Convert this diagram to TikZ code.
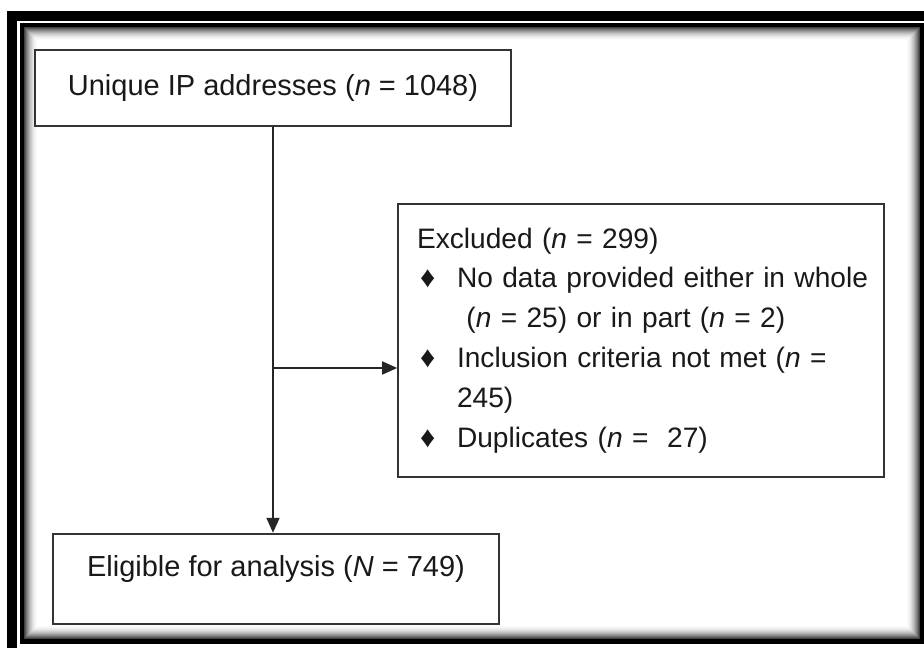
\documentclass[tikz,border=0pt]{standalone}
\usepackage{fontspec}
\setmainfont{Liberation Sans}
\usepackage{tikz}
\usetikzlibrary{arrows.meta,positioning}

\newcommand{\bul}{\makebox[0.97cm][l]{\hspace{0.23cm}{\fontsize{17}{17}\selectfont ♦}}}
\newcommand{\ind}{\hspace*{0.97cm}}

\begin{document}
\begin{tikzpicture}[
x=0.02cm, y=-0.02cm,
box/.style={draw=black!80, line width=1pt, fill=white, align=center, font=\fontsize{16.5}{22.7}\selectfont, text=black!90},
excl/.style={box, minimum width=9.72cm, minimum height=5.46cm, text width=9.3cm, inner xsep=0.21cm, align=left, font=\fontsize{16}{22.7}\selectfont},
arrow/.style={-{Triangle[length=0.3cm, width=0.26cm]}, draw=black!85, line width=1pt}
]
\useasboundingbox (0,0) rectangle (924,648);
% frame with inner shadow
\fill[black] (7,11) rectangle (924,648);
\fill[white] (17,21) rectangle (924,648);
\fill[black] (20,23) rectangle (924,644);
\fill[white] (24,27) rectangle (920,639);
\foreach \k in {0,...,13}{
  \pgfmathsetmacro\g{75*(1-\k/14)^2}
  \draw[black!\g, line width=0.022cm] (24.5+\k,27.5+\k) rectangle (919.5-\k,638.5-\k);
}

\node[box, minimum width=9.52cm, minimum height=1.52cm] (ip) at (273,88) {Unique IP addresses (\textit{n} = 1048)};
\node[box, minimum width=8.92cm, minimum height=1.8cm, text height=0.3cm, text depth=0.4cm, below=8.12cm of ip, xshift=0.06cm] (elig) {Eligible for analysis (\textit{N} = 749)};
\node[excl] (excl) at (641,340.5) {\hspace*{0.17cm}Excluded (\textit{n} = 299)\\
\bul No data provided either in whole\\
\ind\ (\textit{n} = 25) or in part (\textit{n} = 2)\\
\bul Inclusion criteria not met (\textit{n} =\\
\ind 245)\\
\bul Duplicates (\textit{n} =\ \ 27)};

\coordinate (branch) at ([yshift=-0.55cm]excl.west);
\draw[arrow] (ip.south) -- (ip.south |- elig.north);
\draw[arrow] (ip.south |- branch) -- (branch);
\end{tikzpicture}
\end{document}
